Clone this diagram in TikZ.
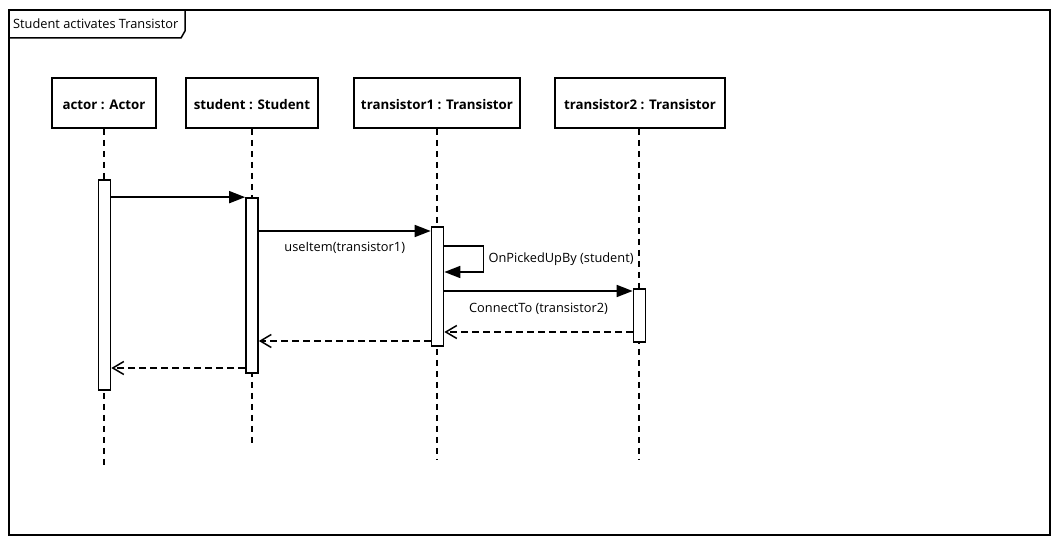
\documentclass[tikz,border=0pt]{standalone}
\usepackage{fontspec}
\setmainfont{Open Sans}
\usetikzlibrary{arrows.meta,positioning}

\begin{document}
\begin{tikzpicture}[x=1pt, y=-1pt,
    head/.style={rectangle, draw, line width=1.7pt, minimum height=50pt, inner sep=0pt, text height=14pt, text depth=0pt, font=\bfseries\fontsize{13.3}{15}\selectfont},
    bar/.style={rectangle, draw, fill=white, line width=1.7pt, minimum width=12pt, inner sep=0pt},
    life/.style={line width=1.6pt, dash pattern=on 6pt off 5pt},
    call/.style={line width=1.7pt, -{Triangle[length=16pt,width=12pt]}},
    reply/.style={line width=1.5pt, dash pattern=on 7pt off 4pt, -{Straight Barb[length=11pt,width=13pt]}},
    lbl/.style={font=\fontsize{12.8}{15}\selectfont}
]
\useasboundingbox (0,0) rectangle (1061,545);

% frame
\draw[line width=1.6pt] (9,10) rectangle (1050,535);
\draw[line width=1.5pt] (9,38) -- (181,38) -- (185,31) -- (185,10);
\node[lbl, anchor=west, inner sep=0pt] (title) at (13,24) {Student activates Transistor};

% lifelines
\node[head, minimum width=104pt] (actor) at (104,103) {actor : Actor};
\node[head, minimum width=132pt] (student) at (252,103) {student : Student};
\node[head, minimum width=166pt] (trans1) at (437,103) {transistor1 : Transistor};
\node[head, minimum width=170pt] (trans2) at (640,103) {transistor2 : Transistor};

\coordinate (aend) at (104,467);
\coordinate (send) at (252,447);
\coordinate (t1end) at (437,459);
\coordinate (t2end) at (639,459);
\draw[life] (actor.south) -- (aend);
\draw[life] (student.south) -- (send);
\draw[life] (trans1.south) -- (t1end);
\draw[life] (trans2.south -| t2end) -- (t2end);

% activations
\node[bar, minimum height=210pt] (abar) at (104.5,285) {};
\node[bar, minimum height=175pt] (sbar) at (252,285.5) {};
\node[bar, minimum height=119pt] (t1bar) at (437.5,286.5) {};
\node[bar, minimum height=53pt] (t2bar) at (639.5,315.5) {};

% messages
\coordinate (m2) at (0,231);
\coordinate (m3) at (0,246);
\coordinate (m3b) at (0,272);
\coordinate (m4) at (0,291);
\coordinate (r1) at (0,332);
\coordinate (r2) at (0,341);
\coordinate (r3) at (0,368);

\draw[call] (abar.east |- sbar.north) -- (sbar.north west);
\draw[call] (sbar.east |- m2) -- node[lbl, below=7pt] {useItem(transistor1)} (t1bar.west |- m2);
\draw[call] (t1bar.east |- m3) -- ++(39,0) -- node[lbl, right=1pt] {OnPickedUpBy (student)} ++(0,26) -- (t1bar.east |- m3b);
\draw[call] (t1bar.east |- m4) -- node[lbl, below=8pt] {ConnectTo (transistor2)} (t2bar.west |- m4);

\draw[reply] (t2bar.west |- r1) -- (t1bar.east |- r1);
\draw[reply] (t1bar.west |- r2) -- (sbar.east |- r2);
\draw[reply] (sbar.west |- r3) -- (abar.east |- r3);
\end{tikzpicture}
\end{document}
